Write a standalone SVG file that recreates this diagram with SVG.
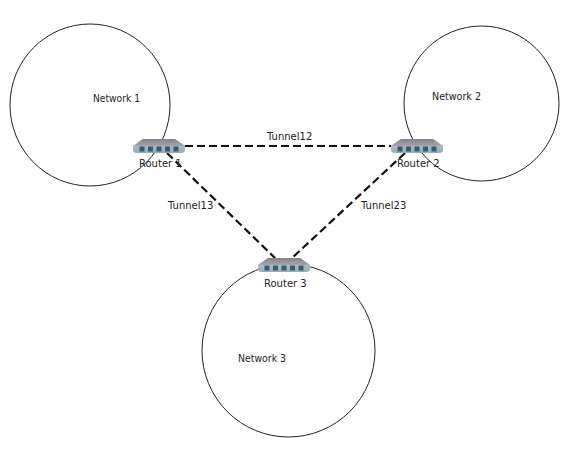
<svg xmlns="http://www.w3.org/2000/svg" xmlns:xlink="http://www.w3.org/1999/xlink" width="583" height="451" viewBox="0 0 583 451">
<style>
text{font-family:"DejaVu Sans",sans-serif;font-size:10px;fill:#222}
.net{fill:none;stroke:#222;stroke-width:1}
.tunnel{fill:none;stroke:#111;stroke-width:2.200;stroke-dasharray:8 4}
</style>
<defs>
<linearGradient id="top" x1="0" y1="0" x2="0" y2="1"><stop offset="0" stop-color="#7f8287"/><stop offset="1" stop-color="#a4a8ad"/></linearGradient>
<linearGradient id="front" x1="0" y1="0" x2="0" y2="1"><stop offset="0" stop-color="#c3d0d6"/><stop offset="1" stop-color="#9ba8af"/></linearGradient>
<g id="router">
<path d="M10 0H42L52 7V11Q52 14 48 14H4Q0 14 0 11V7Z" fill="url(#front)"/>
<path d="M10 0H42L52 7H0Z" fill="url(#top)"/>
<g fill="#2f5f7c"><rect x="6.500" y="7.500" width="5" height="5"/><rect x="15" y="7.500" width="5" height="5"/><rect x="23.500" y="7.500" width="5" height="5"/><rect x="32" y="7.500" width="5" height="5"/><rect x="40.500" y="7.500" width="5" height="5"/></g>
</g>
</defs>
<rect width="583" height="451" fill="#fff"/>
<g id="network-1"><ellipse class="net" cx="90" cy="105" rx="80" ry="81"/><text x="93" y="102" textLength="47" lengthAdjust="spacingAndGlyphs">Network 1</text></g>
<g id="network-2"><circle class="net" cx="481.500" cy="103.500" r="77.500"/><text x="432" y="100" textLength="49" lengthAdjust="spacingAndGlyphs">Network 2</text></g>
<g id="network-3"><circle class="net" cx="288.500" cy="350.500" r="86.500"/><text x="238" y="362" textLength="48" lengthAdjust="spacingAndGlyphs">Network 3</text></g>
<g id="connectors">
<path class="tunnel" d="M185 146H391"/>
<path class="tunnel" d="M167 153L275 258"/>
<path class="tunnel" d="M405 153L292 258"/>
</g>
<g id="router-1"><use xlink:href="#router" href="#router" x="133" y="139"/><text x="139" y="167">Router 1</text></g>
<g id="router-2"><use xlink:href="#router" href="#router" x="391" y="139"/><text x="397" y="167">Router 2</text></g>
<g id="router-3"><use xlink:href="#router" href="#router" x="258" y="258"/><text x="264" y="287">Router 3</text></g>
<g id="labels">
<text x="267" y="140">Tunnel12</text>
<text x="168" y="209">Tunnel13</text>
<text x="361" y="209">Tunnel23</text>
</g>
</svg>
